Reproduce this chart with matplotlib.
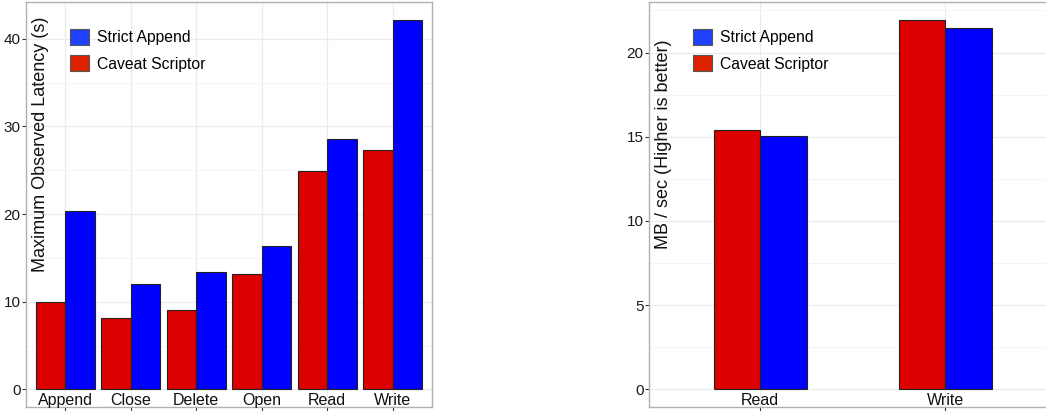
import numpy as np
import matplotlib
matplotlib.use('Agg')
import matplotlib.pyplot as plt
from matplotlib.patches import Patch

plt.rcParams['font.family'] = ['Liberation Sans', 'DejaVu Sans']

# latency panel
ops = ['Append', 'Close', 'Delete', 'Open', 'Read', 'Write']
lat_caveat = [10.0, 8.1, 9.1, 13.15, 24.9, 27.3]
lat_strict = [20.4, 12.0, 13.4, 16.35, 28.6, 42.1]

# throughput panel
io_ops = ['Read', 'Write']
tput_caveat = [15.37, 21.94]
tput_strict = [15.05, 21.45]

RED = '#dd0000'
BLUE = '#0000ff'
W, H = 1046, 411


def style_panel(ax, cats, ymax, ymin, major, ylabel):
    ax.set_xlim(0.4, len(cats) + 0.6)
    ax.set_ylim(ymin, ymax)
    ticks = np.arange(0, ymax, major)
    ax.set_yticks(ticks)
    ax.set_yticklabels(['%g' % t for t in ticks])
    ax.set_yticks(np.arange(major / 2, ymax, major), minor=True)
    ax.set_xticks(np.arange(1, len(cats) + 1))
    ax.set_xticklabels([])
    ax.grid(True, which='major', color='#ebebeb', linewidth=0.9)
    ax.grid(True, which='minor', axis='y', color='#f4f4f4', linewidth=0.6)
    ax.set_axisbelow(True)
    for s in ax.spines.values():
        s.set_color('#b0b0b0')
        s.set_linewidth(1.0)
    ax.tick_params(axis='y', which='major', length=3, pad=1, labelsize=11,
                   color='#333333', labelcolor='#1a1a1a')
    ax.tick_params(axis='y', which='minor', length=0)
    ax.tick_params(axis='x', length=4, color='#333333')
    for i, c in enumerate(cats):
        ax.text(i + 1, 0.018, c, transform=ax.get_xaxis_transform(),
                ha='center', va='center', fontsize=11.5, color='#111111')
    ax.text(0.035, 0.65, ylabel, transform=ax.transAxes, rotation=90,
            ha='center', va='center', fontsize=13, color='#111111')
    handles = [Patch(facecolor='#2040ff', edgecolor='#555555', linewidth=0.8, label='Strict Append'),
               Patch(facecolor='#dd2200', edgecolor='#555555', linewidth=0.8, label='Caveat Scriptor')]
    ax.legend(handles=handles, loc='upper left', bbox_to_anchor=(0.108, 0.933),
              frameon=False, fontsize=11.3, handlelength=1.2, handleheight=1.2,
              labelspacing=0.62, handletextpad=0.5, borderpad=0, borderaxespad=0)


fig = plt.figure(figsize=(W / 100, H / 100), dpi=100)

ax1 = fig.add_axes([26 / W, (H - 407.3) / H, 406 / W, 405.3 / H])
x1 = np.arange(1, len(ops) + 1)
bw1 = 0.45
ax1.bar(x1 - bw1 / 2, lat_caveat, bw1, color=RED, edgecolor='#222222', linewidth=0.8)
ax1.bar(x1 + bw1 / 2, lat_strict, bw1, color=BLUE, edgecolor='#222222', linewidth=0.8)
style_panel(ax1, ops, 44.2, -2.05, 10, 'Maximum Observed Latency (s)')

ax2 = fig.add_axes([649.3 / W, (H - 407.3) / H, 407 / W, 405.3 / H])
x2 = np.arange(1, len(io_ops) + 1)
bw2 = 0.25
ax2.bar(x2 - bw2 / 2, tput_caveat, bw2, color=RED, edgecolor='#222222', linewidth=0.8)
ax2.bar(x2 + bw2 / 2, tput_strict, bw2, color=BLUE, edgecolor='#222222', linewidth=0.8)
style_panel(ax2, io_ops, 23.0, -1.07, 5, 'MB / sec (Higher is better)')

fig.savefig('out.png', dpi=100)
